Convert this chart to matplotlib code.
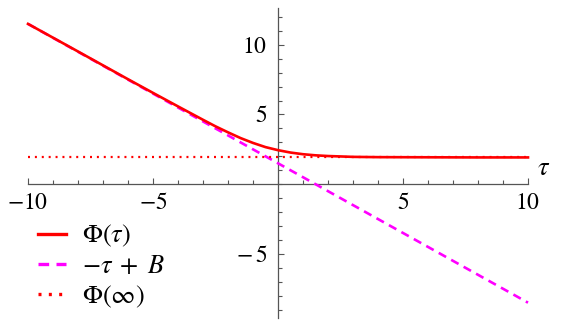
import matplotlib
matplotlib.use("Agg")
import matplotlib.pyplot as plt
import numpy as np
from matplotlib.ticker import MultipleLocator, FixedLocator, FixedFormatter

plt.rcParams['mathtext.fontset'] = 'stix'
plt.rcParams['font.family'] = ['Liberation Serif', 'DejaVu Serif']

# values
tau = [-10, -8, -6, -5, -4, -3, -2.5, -2, -1.5, -1, -0.5, 0, 0.5, 1, 1.5, 2, 3, 4, 6, 8, 10]
phi = [11.5, 9.52, 7.53, 6.55, 5.58, 4.62, 4.15, 3.72, 3.31, 2.96, 2.66, 2.44, 2.27, 2.15, 2.07, 2.02, 1.96, 1.94, 1.93, 1.92, 1.92]

asym_tau = [-10, 10]
asym_val = [11.5, -8.5]

phi_inf = 1.92

xticks = [-10, -5, 5, 10]
yticks = [-5, 5, 10]

fig = plt.figure(figsize=(5.66, 3.24), dpi=100)
ax = fig.add_axes([28 / 566, 6 / 324, 500 / 566, 310 / 324])

red = '#ff0000'
mag = '#ff00ff'

l1, = ax.plot(tau, phi, color=red, lw=1.9, clip_on=False, zorder=4)
l2, = ax.plot(asym_tau, asym_val, color=mag, lw=1.9, dashes=(3.2, 2.2), clip_on=False, zorder=3)
l3, = ax.plot([-10, 10], [phi_inf, phi_inf], color=red, lw=1.6, dashes=(0.9, 2.2), clip_on=False, zorder=3)

ax.set_xlim(-10, 10)
ax.set_ylim(-9.6, 12.64)

for s in ['top', 'right']:
    ax.spines[s].set_visible(False)
ax.spines['left'].set_position(('data', 0))
ax.spines['bottom'].set_position(('data', 0))
for s in ['left', 'bottom']:
    ax.spines[s].set_color('#555555')
    ax.spines[s].set_linewidth(0.9)

ax.xaxis.set_major_locator(FixedLocator(xticks))
ax.xaxis.set_major_formatter(FixedFormatter([r'$%s$' % v if v > 0 else r'$-%d$' % -v for v in xticks]))
ax.xaxis.set_minor_locator(MultipleLocator(1))
ax.yaxis.set_major_locator(FixedLocator(yticks))
ax.yaxis.set_major_formatter(FixedFormatter([r'$%s$' % v if v > 0 else r'$-\,%d$' % -v for v in yticks]))
ax.yaxis.set_minor_locator(MultipleLocator(1))

ax.tick_params(which='both', direction='in', color='#555555', width=0.8, labelsize=17)
ax.tick_params(which='major', length=4.5)
ax.tick_params(which='minor', length=2.6)
ax.tick_params(axis='x', which='major', pad=6)
ax.tick_params(axis='y', which='major', pad=8)

ax.text(10.35, 0.3, r'$\tau$', fontsize=19, ha='left', va='bottom')

leg = ax.legend([l1, l2, l3], [r'$\Phi(\tau)$', r'$-\tau\;+\;B$', r'$\Phi(\infty)$'],
                loc='upper left', bbox_to_anchor=(25 / 566, 1 - 210 / 324),
                bbox_transform=fig.transFigure, frameon=False, fontsize=19,
                handlelength=1.05, handletextpad=0.6, labelspacing=0.2, borderpad=0)
for h in leg.legend_handles:
    h.set_linewidth(2.4)

fig.savefig('out.png', dpi=100)
